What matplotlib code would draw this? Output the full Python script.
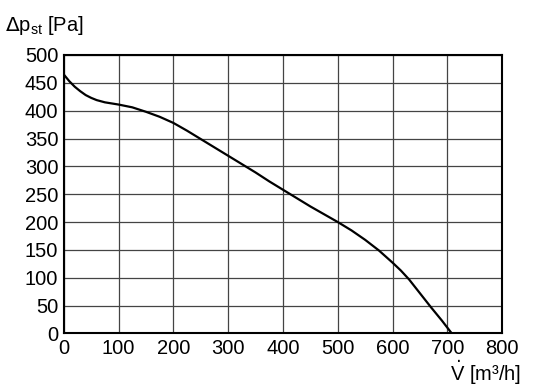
import numpy as np
import matplotlib
matplotlib.use("Agg")
import matplotlib.pyplot as plt

plt.rcParams['font.family'] = ['Liberation Sans', 'DejaVu Sans']

# ==========================
# DATA
# ==========================
flow = [0, 10, 20, 30, 40, 50, 60, 75, 100, 125, 150, 175, 200, 225, 250,
        275, 300, 325, 350, 375, 400, 425, 450, 475, 500, 525, 550, 575,
        600, 615, 630, 650, 670, 690, 708]
pressure = [465, 453, 443, 435, 428, 423, 419, 415, 411, 406, 398, 389, 378,
            364, 349, 334, 319, 304, 289, 273, 258, 243, 228, 214, 200, 185,
            168, 149, 127, 113, 97, 72, 47, 23, 0]

x_ticks = [0, 100, 200, 300, 400, 500, 600, 700, 800]
y_ticks = [0, 50, 100, 150, 200, 250, 300, 350, 400, 450, 500]

# ==========================
# PLOT
# ==========================
fig = plt.figure(figsize=(5.36, 3.9), dpi=100)
ax = fig.add_axes([0.119, 0.145, 0.818, 0.714])

ax.plot(flow, pressure, color='black', lw=1.6, solid_joinstyle='round')

ax.set_xlim(0, 800)
ax.set_ylim(0, 500)
ax.set_xticks(x_ticks)
ax.set_yticks(y_ticks)
ax.grid(True, color='#444444', lw=0.9)
ax.set_axisbelow(True)
ax.tick_params(length=0, labelsize=14.5, pad=4)

for s in ax.spines.values():
    s.set_linewidth(1.5)
    s.set_color('black')

fig.text(0.01, 0.935, r'$\Delta$p$_{\mathregular{st}}$ [Pa]', fontsize=14.5, va='center', ha='left')
fig.text(0.972, 0.045, r'$\dot{\mathregular{V}}$ [m³/h]', fontsize=14.5, va='center', ha='right')

fig.savefig("out.png", dpi=100)
